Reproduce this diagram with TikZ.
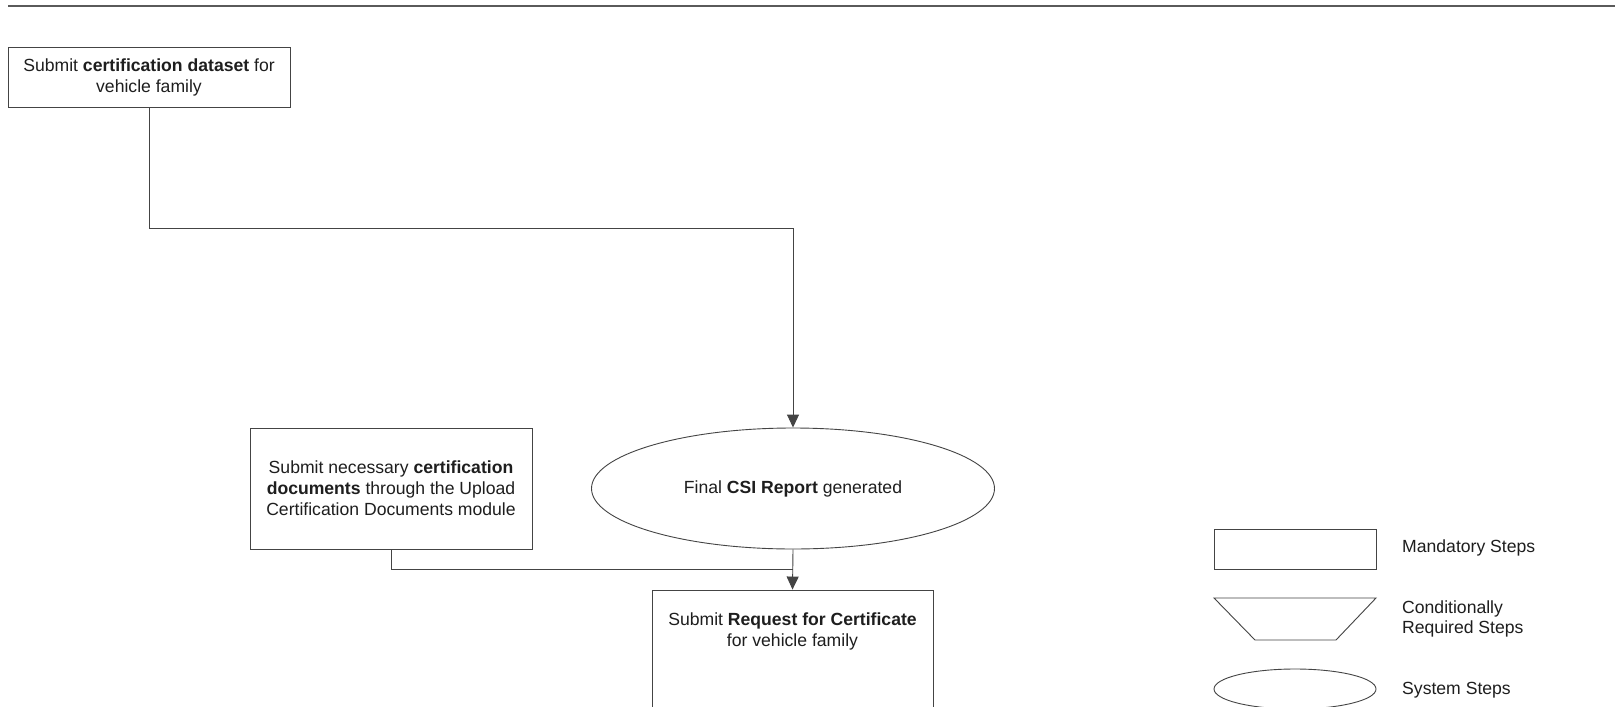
\documentclass[tikz,border=0pt]{standalone}
\usepackage{fontspec}
\setmainfont{Liberation Sans}
\usetikzlibrary{shapes.geometric,arrows.meta}
\definecolor{linegray}{HTML}{444444}
\definecolor{textgray}{HTML}{1E1E1E}
\definecolor{rulegray}{HTML}{5A5A5A}
\tikzset{
  stepbox/.style={draw=linegray, line width=0.9pt, rectangle, align=center, inner sep=0pt,
    text=textgray, font=\fontsize{17.6}{21}\selectfont, minimum width=282pt},
  sysstep/.style={draw=linegray, line width=0.9pt, ellipse, align=center, inner sep=0pt,
    text=textgray, font=\fontsize{17.6}{21}\selectfont},
  conn/.style={draw=linegray, line width=0.9pt},
  arr/.style={conn, -{Triangle[width=12pt,length=13pt]}},
  legtext/.style={anchor=west, align=left, inner sep=0pt, text=textgray,
    font=\fontsize{17.6}{20}\selectfont}
}
\begin{document}
\begin{tikzpicture}[x=1pt,y=-1pt]
\useasboundingbox[fill=white] (0,0) rectangle (1615,707);
% top rule
\draw[rulegray, line width=2pt] (8,6) -- (1615,6);

% nodes
\node[stepbox, minimum height=60pt] (b1) at (149,77)
  {Submit \textbf{certification dataset} for\\vehicle family};
\node[stepbox, minimum height=121pt] (b2) at (391,488.5)
  {Submit necessary \textbf{certification}\\\textbf{documents} through the Upload\\Certification Documents module};
\node[sysstep, minimum width=403pt, minimum height=121pt] (e1) at (793,488.5)
  {Final \textbf{CSI Report} generated};
\node[stepbox, minimum width=281pt, minimum height=121pt] (b3) at (792.5,650.5)
  {Submit \textbf{Request for Certificate}\\for vehicle family\\[21pt]\mbox{}};

\coordinate (j) at (793,569);

% connectors
\draw[arr] (b1.south) -- ++(0,121) -| (e1.north);
\draw[conn] (b2.south) |- (j);
\draw[arr] (e1.south) -- (b3.north);

% legend
\node[draw=linegray, line width=0.9pt, rectangle, minimum width=162pt, minimum height=40pt, inner sep=0pt]
  (lm) at (1295,549) {};
\draw[linegray, line width=0.9pt] (1214,598) -- (1376,598) -- (1336,640) -- (1255,640) -- cycle;
\node[draw=linegray, line width=0.9pt, ellipse, minimum width=162pt, minimum height=40pt, inner sep=0pt]
  (ls) at (1295,689) {};

\node[legtext] (tm) at (1402,548) {Mandatory Steps};
\node[legtext] (tc) at (1402,619) {Conditionally\\Required Steps};
\node[legtext] (ts) at (1402,690) {System Steps};
\end{tikzpicture}
\end{document}
